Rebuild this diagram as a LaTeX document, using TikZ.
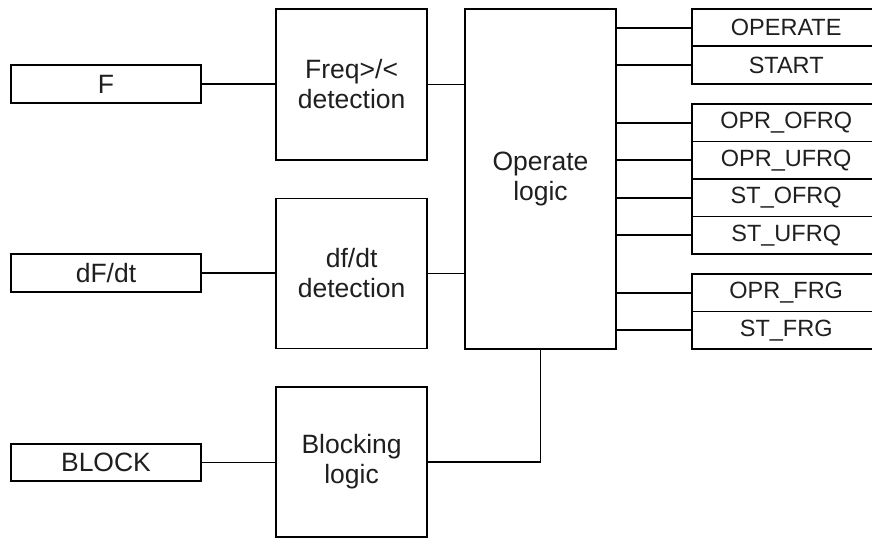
\documentclass[tikz,border=0pt]{standalone}
\usepackage{fontspec}
\setmainfont{Liberation Sans}
\begin{document}
\begin{tikzpicture}[x=1pt,y=-1pt,
  every node/.style={inner sep=0pt, outer sep=0pt},
  box/.style={draw=black, line width=1.8pt, text=black!88, align=center,
    font=\fontsize{26.5}{30}\selectfont},
  inbox/.style={box, minimum width=190pt, minimum height=37.7pt},
  midbox/.style={box, minimum width=151.3pt},
  outbox/.style={box, minimum width=187.7pt, minimum height=37.5pt,
    font=\fontsize{23.5}{27}\selectfont},
  wire/.style={draw=black, line width=1.8pt}]
\clip (0,0) rectangle (872,538);
\fill[white] (0,0) rectangle (872,538);
% inputs
\node[inbox] (F) at (106,84.2) {F};
\node[inbox] (dF) at (106,273.2) {dF/dt};
\node[inbox] (BL) at (106,462.5) {BLOCK};
% middle blocks
\node[midbox, minimum height=151pt] (fq) at (351.6,84.5) {Freq>/<\\detection};
\node[midbox, minimum height=150pt] (df) at (351.6,273.4) {df/dt\\detection};
\node[midbox, minimum height=150.6pt] (blk) at (351.6,462) {Blocking\\logic};
\node[box, minimum width=151pt, minimum height=340pt] (op) at (540.5,179) {Operate\\logic};
% outputs
\node[outbox] (o1) at (786.2,27.7) {OPERATE};
\node[outbox] (o2) at (786.2,65.1) {START};
\node[outbox] (o3) at (786.2,122.75) {OPR\_OFRQ};
\node[outbox] (o4) at (786.2,160.25) {OPR\_UFRQ};
\node[outbox] (o5) at (786.2,197.75) {ST\_OFRQ};
\node[outbox] (o6) at (786.2,235.25) {ST\_UFRQ};
\node[outbox] (o7) at (786.2,292.75) {OPR\_FRG};
\node[outbox] (o8) at (786.2,330.25) {ST\_FRG};
% connectors
\draw[wire] (F.east) -- (fq.west |- F.east);
\draw[wire] (dF.east) -- (df.west |- dF.east);
\draw[wire] (BL.east) -- (blk.west |- BL.east);
\draw[wire] (fq.east) -- (op.west |- fq.east);
\draw[wire] (df.east) -- (op.west |- df.east);
\draw[wire] (blk.east) -| (op.south);
\foreach \o in {o1,o2,o3,o4,o5,o6,o7,o8}
  \draw[wire] (op.east |- \o.west) -- (\o.west);
\end{tikzpicture}
\end{document}
